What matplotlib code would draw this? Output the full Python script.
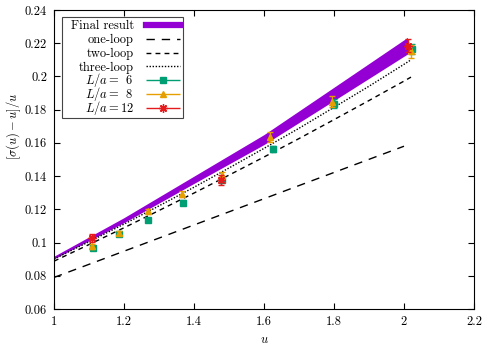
import matplotlib
matplotlib.use("Agg")
import matplotlib.pyplot as plt
from matplotlib.lines import Line2D
from matplotlib.container import ErrorbarContainer
from matplotlib.legend_handler import HandlerErrorbar
from matplotlib.offsetbox import TextArea
from matplotlib.transforms import Bbox
from matplotlib.ticker import FuncFormatter, MultipleLocator

plt.rcParams['font.family'] = 'serif'
plt.rcParams['font.serif'] = ['cmr10']
plt.rcParams['mathtext.fontset'] = 'cm'
# used only by the legend labels (custom math family, normal-height slash)
plt.rcParams['mathtext.rm'] = 'cmr10'
plt.rcParams['mathtext.it'] = 'cmmi10'
plt.rcParams['axes.formatter.use_mathtext'] = True
plt.rcParams['font.size'] = 9

# final result band (lower / upper edge)
u_band = [1.0, 1.2, 1.4, 1.6, 1.8, 2.01]
band_lo = [0.0902, 0.1120, 0.1356, 0.1590, 0.1855, 0.2135]
band_hi = [0.0918, 0.1150, 0.1400, 0.1650, 0.1935, 0.2235]

# perturbative curves
u_pt = [1.0, 1.1, 1.2, 1.3, 1.4, 1.5, 1.6, 1.7, 1.8, 1.9, 2.0, 2.02]
one_loop = [0.0790, 0.0869, 0.0948, 0.1027, 0.1106, 0.1185, 0.1264, 0.1343, 0.1422, 0.1501, 0.1580, 0.1596]
two_loop = [0.0888, 0.0988, 0.1089, 0.1193, 0.1298, 0.1406, 0.1515, 0.1626, 0.1740, 0.1855, 0.1972, 0.1996]
three_loop = [0.0901, 0.1005, 0.1111, 0.1221, 0.1333, 0.1449, 0.1567, 0.1688, 0.1814, 0.1941, 0.2073, 0.2100]

# lattice data
u6 = [1.112, 1.187, 1.27, 1.368, 1.48, 1.625, 1.80, 2.022]
s6 = [0.0970, 0.1052, 0.1138, 0.1240, 0.1378, 0.1563, 0.1837, 0.2168]
e6 = [0.0012, 0.0010, 0.0012, 0.0015, 0.0015, 0.0020, 0.0025, 0.0030]

u8 = [1.11, 1.185, 1.268, 1.365, 1.479, 1.617, 1.795, 2.019]
s8 = [0.0978, 0.1055, 0.1188, 0.1292, 0.1405, 0.1635, 0.1848, 0.2152]
e8 = [0.0015, 0.0012, 0.0015, 0.0020, 0.0022, 0.0030, 0.0033, 0.0040]

u12 = [1.108, 1.478, 2.012]
s12 = [0.1027, 0.1375, 0.2185]
e12 = [0.0025, 0.0030, 0.0040]

labels = ['Final result', 'one-loop', 'two-loop', 'three-loop',
          r'$L/a = \enspace 6$', r'$L/a = \enspace 8$', r'$L/a = 12$']

purple = '#9400d3'
green = '#009e73'
orange = '#e69f00'
red = '#e41a1c'

fig = plt.figure(figsize=(4.94, 3.45), dpi=100)
ax = fig.add_axes([0.1093, 0.1043, 0.8502, 0.8667])

ax.fill_between(u_band, band_lo, band_hi, color=purple, lw=0, zorder=1)
ax.plot(u_pt[:-1], one_loop[:-1], color='black', lw=1.0, dashes=(6, 5), zorder=2)
ax.plot(u_pt, two_loop, color='black', lw=1.0, dashes=(3.5, 3), zorder=2)
ax.plot(u_pt, three_loop, color='black', lw=1.0, dashes=(1, 1.2), zorder=2)

ax.errorbar(u6, s6, yerr=e6, fmt='s', color=green, ms=4.5, lw=1, capsize=2, zorder=3)
ax.errorbar(u8, s8, yerr=e8, fmt='^', color=orange, ms=4.5, lw=1, capsize=2, zorder=4)
ax.errorbar(u12, s12, yerr=e12, fmt='none', ecolor=red, lw=1, capsize=2, zorder=5)
ax.plot(u12, s12, ls='none', marker=(8, 2, 0), color=red, ms=6, mew=1, zorder=5)

# legend handles (horizontal error bars like gnuplot)
h_final = Line2D([], [], color=purple, lw=4.5)
h_one = Line2D([], [], color='black', lw=1.0, dashes=(6, 5))
h_two = Line2D([], [], color='black', lw=1.0, dashes=(3.5, 3))
h_three = Line2D([], [], color='black', lw=1.0, dashes=(1, 1.2))
h6 = ax.errorbar([], [], xerr=[], fmt='s', color=green, ms=4.5, lw=1, capsize=2)
h8 = ax.errorbar([], [], xerr=[], fmt='^', color=orange, ms=4.5, lw=1, capsize=2)
h12 = ax.errorbar([], [], xerr=[], fmt=' ', marker=(8, 2, 0), color=red, ms=6, mew=1, lw=1, capsize=2)

leg = ax.legend([h_final, h_one, h_two, h_three, h6, h8, h12], labels,
                loc='upper left', bbox_to_anchor=(0.018, 0.976), borderaxespad=0,
                markerfirst=False, handlelength=2.75, handletextpad=0.95,
                labelspacing=0.13, borderpad=0.25, fancybox=False, fontsize=9,
                edgecolor='#444444', framealpha=1,
                handler_map={ErrorbarContainer: HandlerErrorbar(xerr_size=1.35)})
leg.get_frame().set_linewidth(0.8)
for t in leg.get_texts():
    t.set_math_fontfamily('custom')


# give every legend row the same height
def walk(artist):
    for c in artist.get_children():
        if isinstance(c, TextArea):
            yield c
        else:
            yield from walk(c)


def fix_bbox(ta, extra_left=6):
    orig = ta.get_bbox

    def get_bbox(renderer):
        b = orig(renderer)
        _, h, d = renderer.get_text_width_height_descent(
            'lp', ta._text.get_fontproperties(), ismath=False)
        return Bbox.from_bounds(b.x0 - extra_left, -d, b.width + extra_left, h)
    ta.get_bbox = get_bbox


for ta in walk(leg):
    fix_bbox(ta)

ax.set_xlim(1, 2.2)
ax.set_ylim(0.06, 0.24)
ax.xaxis.set_major_locator(MultipleLocator(0.2))
ax.yaxis.set_major_locator(MultipleLocator(0.02))
fmt = FuncFormatter(lambda v, p: '%g' % round(v, 4))
ax.xaxis.set_major_formatter(fmt)
ax.yaxis.set_major_formatter(fmt)
ax.tick_params(direction='in', length=4.5, width=0.8, top=True, right=True, pad=5)
for s in ax.spines.values():
    s.set_linewidth(0.8)

ax.set_xlabel('$u$')
ax.set_ylabel(r'$[\sigma(u) - u]/u$')
ax.yaxis.set_label_coords(-0.074, 0.61)

fig.savefig('out.png', dpi=100)
